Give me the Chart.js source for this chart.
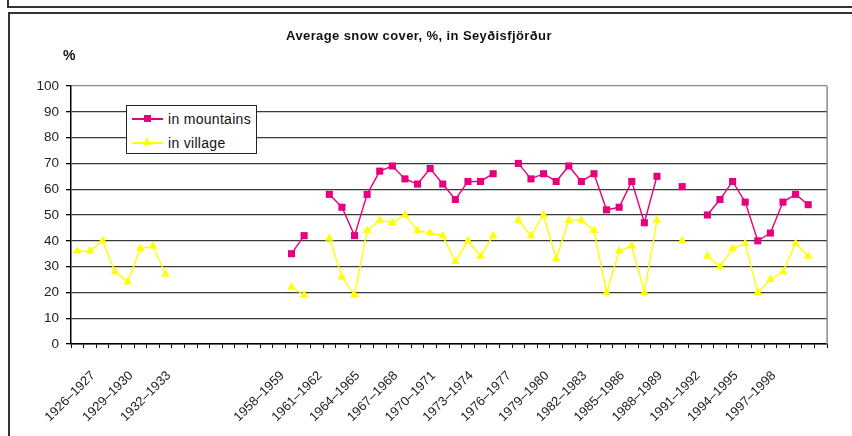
<!DOCTYPE html>
<html lang="en">
<head>
<meta charset="UTF-8">
<title>Average snow cover, %, in Seyðisfjörður</title>
<style>
    body {
        margin: 0;
        background: #fff;
        font-family: 'Liberation Sans', Arial, sans-serif;
    }
    .page {
        position: relative;
        width: 852px;
        height: 436px;
        overflow: hidden;
    }
    .box-top {
        position: absolute;
        left: 7px;
        top: -13px;
        width: 900px;
        height: 17px;
        border: 2px solid #333;
    }
    .box {
        position: absolute;
        left: 8px;
        top: 12px;
        width: 900px;
        height: 500px;
        border: 2px solid #333;
    }
    .chart-wrap {
        position: absolute;
        left: 0;
        top: 0;
        width: 852px;
        height: 436px;
    }
    .title {
        position: absolute;
        left: 0;
        width: 838px;
        top: 28px;
        text-align: center;
        font-weight: bold;
        font-size: 13px;
        letter-spacing: 0.4px;
        color: #111;
    }
    .unit {
        position: absolute;
        left: 63px;
        top: 47px;
        font-weight: bold;
        font-size: 14px;
        color: #111;
    }
    .legend {
        position: absolute;
        left: 126px;
        top: 105px;
        width: 131px;
        height: 49px;
        box-sizing: border-box;
        border: 1px solid #222;
        background: #fff;
        font-size: 14px;
        letter-spacing: 0.3px;
        color: #111;
    }
    .legend .item {
        position: absolute;
        left: 5px;
        height: 16px;
        line-height: 16px;
    }
    .legend .sample {
        position: absolute;
        left: 0;
        top: 7px;
        width: 31px;
        height: 1.5px;
    }
    .legend .label {
        position: absolute;
        left: 36px;
        top: 0;
        white-space: nowrap;
    }
    .sample.m { background: #e6007e; }
    .sample.v { background: #ffff00; }
    .sample.m i {
        position: absolute;
        left: 12px;
        top: -3px;
        width: 7px;
        height: 7px;
        background: #e6007e;
    }
    .sample.v i {
        position: absolute;
        left: 11px;
        top: -5px;
        width: 0;
        height: 0;
        border-left: 4.5px solid transparent;
        border-right: 4.5px solid transparent;
        border-bottom: 8px solid #ffff00;
    }
</style>
<script src="https://cdn.jsdelivr.net/npm/chart.js"></script>
</head>
<body>
<div class="page">
    <div class="box-top"></div>
    <div class="box"></div>
    <div class="chart-wrap"><canvas id="chart"></canvas></div>
    <div class="title">Average snow cover, %, in Seyðisfjörður</div>
    <div class="unit">%</div>
    <div class="legend">
        <div class="item" style="top:5px"><span class="sample m"><i></i></span><span class="label">in mountains</span></div>
        <div class="item" style="top:29px"><span class="sample v"><i></i></span><span class="label">in village</span></div>
    </div>
</div>
<script>
    // winters; the blank entries are the empty slots of the original sheet
    const seasons = [
        '1926–1927', '1927–1928', '1928–1929', '1929–1930', '1930–1931', '1931–1932', '1932–1933', '1933–1934',
        '', '', '', '', '', '', '',
        '1958–1959', '1959–1960', '1960–1961', '1961–1962', '1962–1963', '1963–1964', '1964–1965', '1965–1966',
        '1966–1967', '1967–1968', '1968–1969', '1969–1970', '1970–1971', '1971–1972', '1972–1973', '1973–1974',
        '1974–1975', '1975–1976', '1976–1977', '1977–1978', '1978–1979', '1979–1980', '1980–1981', '1981–1982',
        '1982–1983', '1983–1984', '1984–1985', '1985–1986', '1986–1987', '1987–1988', '1988–1989', '1989–1990',
        '1990–1991', '1991–1992', '1992–1993', '1993–1994', '1994–1995', '1995–1996', '1996–1997', '1997–1998',
        '', '', '', '', ''
    ];

    // snow cover, %
    const inMountains = [
        null, null, null, null, null, null, null, null,
        null, null, null, null, null, null, null,
        null, null, 35, 42, null, 58, 53, 42,
        58, 67, 69, 64, 62, 68, 62, 56,
        63, 63, 66, null, 70, 64, 66, 63,
        69, 63, 66, 52, 53, 63, 47, 65,
        null, 61, null, 50, 56, 63, 55, 40,
        43, 55, 58, 54, null
    ];

    const inVillage = [
        36, 36, 40, 28, 24, 37, 38, 27,
        null, null, null, null, null, null, null,
        null, null, 22, 19, null, 41, 26, 19,
        44, 48, 47, 50, 44, 43, 42, 32,
        40, 34, 42, null, 48, 42, 50, 33,
        48, 48, 44, 20, 36, 38, 20, 48,
        null, 40, null, 34, 30, 37, 39, 20,
        25, 28, 39, 34, null
    ];

    const yTicks = [0, 10, 20, 30, 40, 50, 60, 70, 80, 90, 100];

    // grey plot-area border on the right side
    const plotBorder = {
        id: 'plotBorder',
        afterDraw(chart) {
            const a = chart.chartArea;
            const ctx = chart.ctx;
            ctx.save();
            ctx.strokeStyle = '#8a8a8a';
            ctx.lineWidth = 1.5;
            ctx.beginPath();
            ctx.moveTo(a.right, a.top);
            ctx.lineTo(a.right, a.bottom);
            ctx.stroke();
            ctx.restore();
        }
    };

    const tickFont = { family: "'Liberation Sans', Arial, sans-serif", size: 13.5 };

    new Chart(document.getElementById('chart'), {
        type: 'line',
        data: {
            labels: seasons,
            datasets: [
                {
                    label: 'in mountains',
                    data: inMountains,
                    borderColor: '#e6007e',
                    backgroundColor: '#e6007e',
                    borderWidth: 1.4,
                    pointStyle: 'rect',
                    pointRadius: 5,
                    pointBorderWidth: 0,
                    spanGaps: false,
                    tension: 0
                },
                {
                    label: 'in village',
                    data: inVillage,
                    borderColor: '#ffff00',
                    backgroundColor: '#ffff00',
                    borderWidth: 1.4,
                    pointStyle: 'triangle',
                    pointRadius: 5,
                    pointBorderWidth: 0,
                    spanGaps: false,
                    tension: 0
                }
            ]
        },
        plugins: [plotBorder],
        options: {
            responsive: true,
            maintainAspectRatio: false,
            animation: false,
            layout: { padding: { left: 0, top: 86, right: 20, bottom: 0 } },
            plugins: {
                legend: { display: false },
                title: { display: false },
                tooltip: { enabled: false }
            },
            scales: {
                x: {
                    offset: true,
                    afterFit(scale) { scale.height = 92; },
                    grid: {
                        offset: true,
                        drawOnChartArea: false,
                        drawTicks: true,
                        tickLength: 4,
                        tickColor: '#000',
                        tickWidth: 1
                    },
                    border: { display: true, color: '#000', width: 1.5 },
                    ticks: {
                        autoSkip: false,
                        maxRotation: 45,
                        minRotation: 45,
                        labelOffset: 16,
                        padding: 20,
                        color: '#222',
                        font: { family: "'Liberation Sans', Arial, sans-serif", size: 13 },
                        callback(value, index) {
                            return index % 3 === 0 ? this.getLabelForValue(value) : '';
                        }
                    }
                },
                y: {
                    min: 0,
                    max: 100,
                    afterFit(scale) { scale.width = 71; },
                    afterBuildTicks(scale) { scale.ticks = yTicks.map(v => ({ value: v })); },
                    grid: {
                        color: ctx => ctx.tick && ctx.tick.value === 100 ? '#8a8a8a' : '#3a3a3a',
                        lineWidth: 1.3,
                        drawTicks: true,
                        tickLength: 5,
                        tickColor: '#000'
                    },
                    border: { display: true, color: '#000', width: 1.5 },
                    ticks: {
                        padding: 7,
                        color: '#222',
                        font: tickFont
                    }
                }
            }
        }
    });
</script>
</body>
</html>
